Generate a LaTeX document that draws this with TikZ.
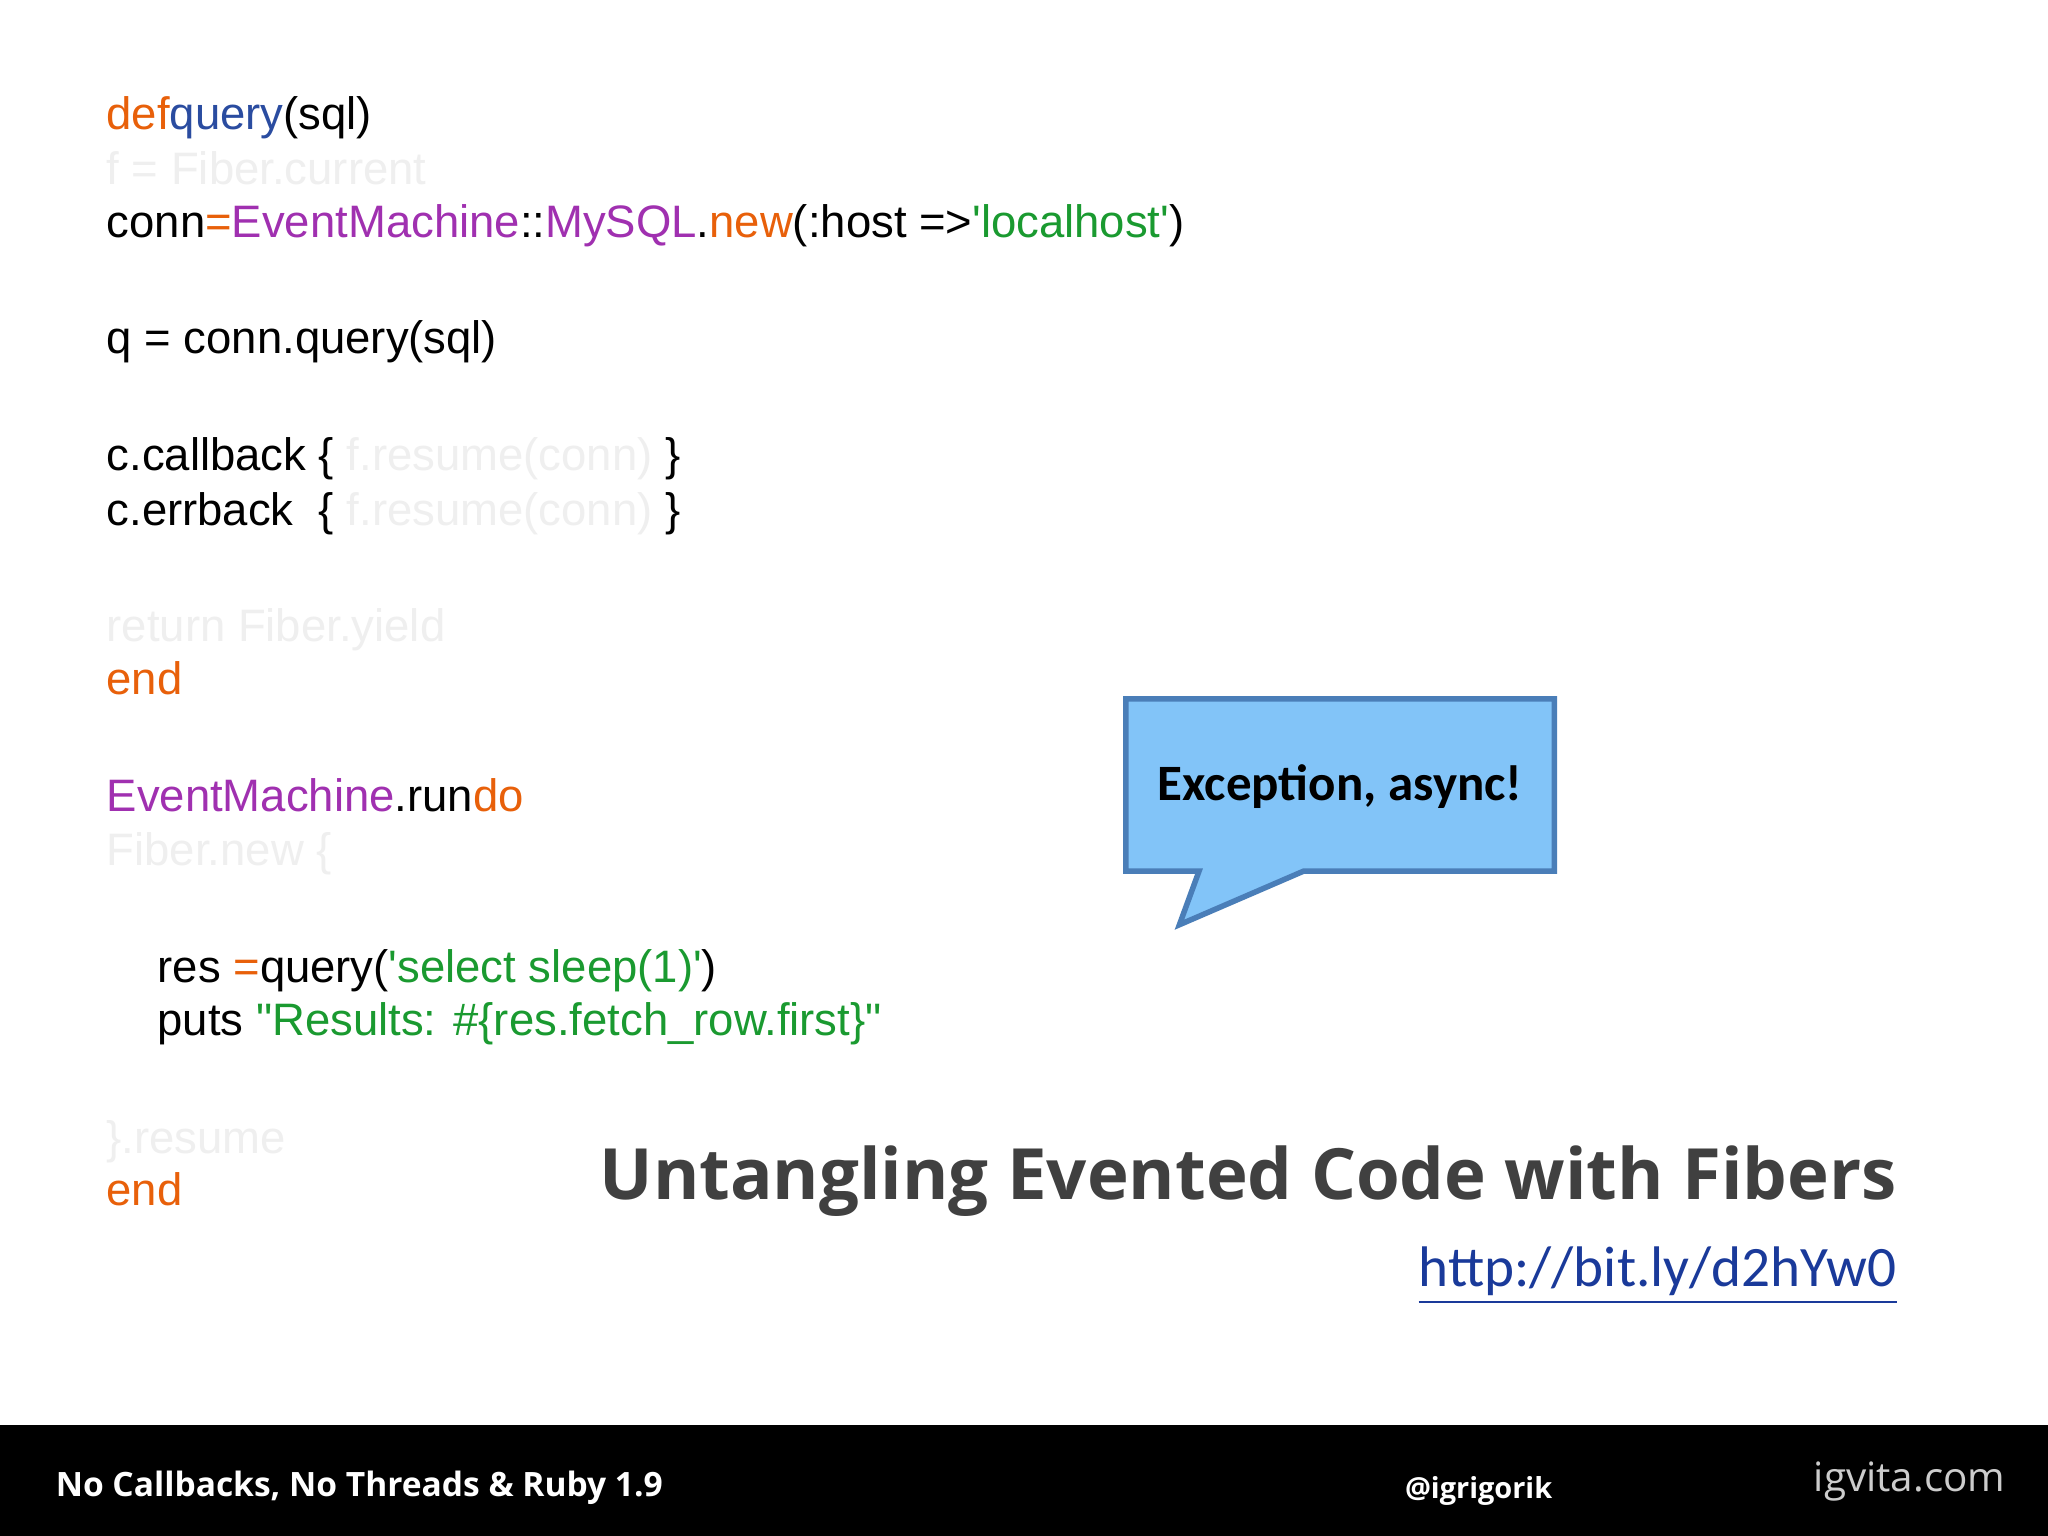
\documentclass[tikz,border=0pt]{standalone}
\usepackage{fontspec}
\setmainfont{Liberation Sans}
\newfontfamily\plainsans{Liberation Sans}
\newfontfamily\osans{Open Sans}
\newfontfamily\carl{Carlito}
\newcommand{\sq}{{\plainsans\char"27}}
\newcommand{\dq}{{\plainsans\char"22}}
\definecolor{kw}{HTML}{E8600A}
\definecolor{fn}{HTML}{2A4CA0}
\definecolor{cls}{HTML}{A030B0}
\definecolor{str}{HTML}{1A9A30}
\definecolor{faint}{HTML}{EFEFEF}
\definecolor{bub}{HTML}{82C4F8}
\definecolor{bubd}{HTML}{4A7EB8}
\definecolor{url}{HTML}{1A3A9A}
\definecolor{ttl}{HTML}{404040}
\begin{document}
\begin{tikzpicture}[x=0.01cm,y=-0.01cm,
  code/.style={anchor=base west,inner sep=0,font=\fontsize{9.9}{12}\selectfont},
  foot/.style={anchor=base west,inner sep=0,text=white}]
\useasboundingbox (0,0) rectangle (1568,1176);
\fill[white] (0,0) rectangle (1568,1176);
\fill[black] (0,1091) rectangle (1568,1176);
\node[code] (l1) at (81,99) {\textcolor{kw}{def}\textcolor{fn}{query}(sql)};
\node[code,text=faint] (l2) at (81,141) {f = Fiber.current};
\node[code] (l3) at (81,182) {conn\textcolor{kw}{=}\textcolor{cls}{EventMachine}::\textcolor{cls}{MySQL}.\textcolor{kw}{new}(:host =>\textcolor{str}{\sq localhost\sq})};
\node[code] (l4) at (81,271) {q = conn.query(sql)};
\node[code] (l5) at (81,360) {c.callback \{ \textcolor{faint}{f.resume(conn)} \}};
\node[code] (l6) at (81,402) {c.errback\ \ \{ \textcolor{faint}{f.resume(conn)} \}};
\node[code,text=faint] (l7) at (81,491) {return Fiber.yield};
\node[code,text=kw] (l8) at (81,532) {end};
\node[code] (l9) at (81,621) {\textcolor{cls}{EventMachine}.run\textcolor{kw}{do}};
\node[code,text=faint] (l10) at (81,663) {Fiber.new \{};
\node[code] (l11) at (120,752) {res \textcolor{kw}{=}query(\textcolor{str}{\sq select sleep(1)\sq})};
\node[code] (l12) at (120,793) {puts \textcolor{str}{\dq Results: \#\{res.fetch\_row.first\}\dq}};
\node[code,text=faint] (l13) at (81,883) {\}.resume};
\node[code,text=kw] (l14) at (81,923) {end};
\draw[bubd,line width=1.2pt,fill=bub,line join=miter]
  (862,535) -- (1190,535) -- (1190,667) -- (998,667) -- (903,708) -- (918,667) -- (862,667) -- cycle;
\node[inner sep=0,font=\carl\bfseries\fontsize{11.1}{13}\selectfont] (bt) at (1026,602) {Exception, async!};
\node[anchor=base east,inner sep=0,text=ttl,font=\osans\bfseries\fontsize{15.4}{18}\selectfont] (title) at (1453,918) {Untangling Evented Code with Fibers};
\node[anchor=base east,inner sep=0,text=url,font=\carl\fontsize{12.45}{15}\selectfont] (url) at (1453,985) {\underline{http://bit.ly/d2hYw0}};
\node[foot,font=\osans\bfseries\fontsize{7.3}{9}\selectfont] (f1) at (42,1146) {No Callbacks, No Threads \& Ruby 1.9};
\node[foot,font=\osans\bfseries\fontsize{6.3}{8}\selectfont] (f2) at (1075,1147) {@igrigorik};
\node[foot,text=gray!40,font=\osans\fontsize{8.8}{10}\selectfont] (f3) at (1388,1142) {igvita.com};
\end{tikzpicture}
\end{document}
